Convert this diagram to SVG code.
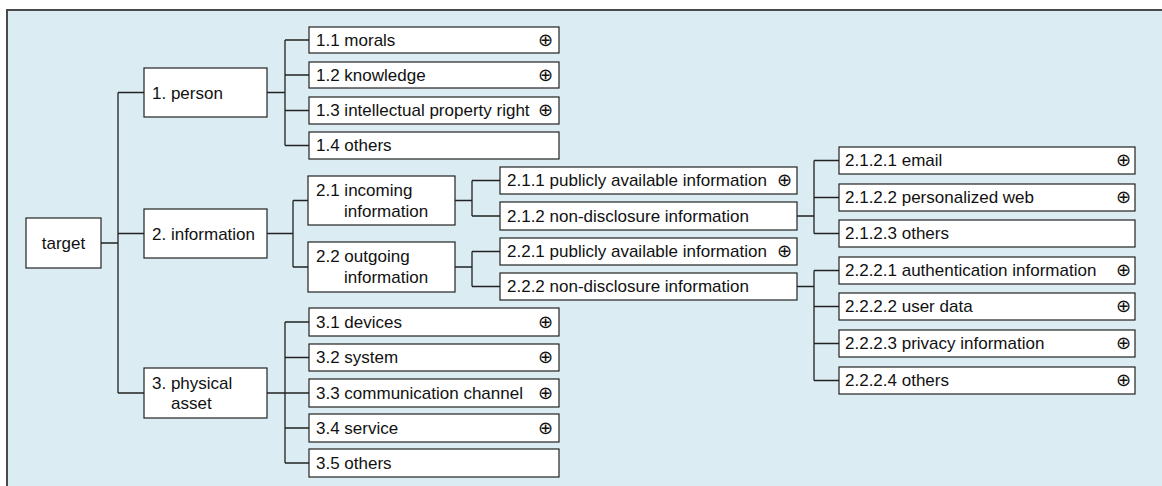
<svg xmlns="http://www.w3.org/2000/svg" width="1162" height="486" viewBox="0 0 1162 486">
<style>
.bx{fill:#fff;stroke:#222;stroke-width:1.2}
.t{font-family:"Liberation Sans",Arial,sans-serif;font-size:17px;fill:#111}
.p{font-family:"DejaVu Sans",sans-serif;font-size:18px;fill:#111;text-anchor:end}
.c{fill:none;stroke:#222;stroke-width:1.3}
</style>
<rect x="0" y="0" width="1162" height="486" fill="#fff"/>
<rect x="7" y="10" width="1165" height="490" fill="#dbedf3" stroke="#4a4a4a" stroke-width="2"/>
<g id="connectors" class="c">
<path d="M101 243H118M118 92.5V393M118 92.5H144M118 233.5H144M118 393H144"/>
<path d="M267 92.5H285M285 40V145.5M285 40H309M285 75H309M285 110.5H309M285 145.5H309"/>
<path d="M267 233.5H293M293 200.5V267M293 200.5H308M293 267H308"/>
<path d="M455 200.5H472M472 180.5V216M472 180.5H500M472 216H500"/>
<path d="M455 267H472M472 251.5V286.5M472 251.5H500M472 286.5H500"/>
<path d="M797 216H814M814 160.5V233.5M814 160.5H839M814 197.5H839M814 233.5H839"/>
<path d="M797 286.5H814M814 270.5V380.5M814 270.5H839M814 306.5H839M814 343.5H839M814 380.5H839"/>
<path d="M267 393H285M285 322V463M285 322H309M285 357.5H309M285 393H309M285 428H309M285 463H309"/>
</g>
<g id="target"><rect class="bx" x="26" y="218" width="75" height="50"/><text class="t" x="63.5" y="249" text-anchor="middle">target</text></g>
<g id="n1"><rect class="bx" x="144" y="68" width="123" height="49"/><text class="t" x="152" y="99">1. person</text></g>
<g id="n2"><rect class="bx" x="144" y="209" width="123" height="49"/><text class="t" x="152" y="240">2. information</text></g>
<g id="n3"><rect class="bx" x="144" y="368" width="123" height="50"/><text class="t" x="152" y="389">3. physical</text><text class="t" x="171" y="409">asset</text></g>
<g id="n11"><rect class="bx" x="309" y="27" width="250" height="26"/><text class="t" x="316" y="46">1.1 morals</text><text class="p" x="553" y="46">⊕</text></g>
<g id="n12"><rect class="bx" x="309" y="62" width="250" height="26"/><text class="t" x="316" y="81">1.2 knowledge</text><text class="p" x="553" y="81">⊕</text></g>
<g id="n13"><rect class="bx" x="309" y="97" width="250" height="27"/><text class="t" x="316" y="116">1.3 intellectual property right</text><text class="p" x="553" y="116">⊕</text></g>
<g id="n14"><rect class="bx" x="309" y="132" width="250" height="27"/><text class="t" x="316" y="151">1.4 others</text></g>
<g id="n21"><rect class="bx" x="308" y="176" width="147" height="49"/><text class="t" x="316" y="196">2.1 incoming</text><text class="t" x="344" y="217">information</text></g>
<g id="n22"><rect class="bx" x="308" y="242" width="147" height="50"/><text class="t" x="316" y="262">2.2 outgoing</text><text class="t" x="344" y="283">information</text></g>
<g id="n211"><rect class="bx" x="500" y="167" width="297" height="27"/><text class="t" x="507" y="186">2.1.1 publicly available information</text><text class="p" x="792" y="186">⊕</text></g>
<g id="n212"><rect class="bx" x="500" y="202" width="297" height="28"/><text class="t" x="507" y="222">2.1.2 non-disclosure information</text></g>
<g id="n221"><rect class="bx" x="500" y="238" width="297" height="27"/><text class="t" x="507" y="257">2.2.1 publicly available information</text><text class="p" x="792" y="257">⊕</text></g>
<g id="n222"><rect class="bx" x="500" y="273" width="297" height="27"/><text class="t" x="507" y="292">2.2.2 non-disclosure information</text></g>
<g id="n2121"><rect class="bx" x="839" y="147" width="296" height="27"/><text class="t" x="845" y="166">2.1.2.1 email</text><text class="p" x="1131" y="166">⊕</text></g>
<g id="n2122"><rect class="bx" x="839" y="184" width="296" height="27"/><text class="t" x="845" y="203">2.1.2.2 personalized web</text><text class="p" x="1131" y="203">⊕</text></g>
<g id="n2123"><rect class="bx" x="839" y="220" width="296" height="27"/><text class="t" x="845" y="239">2.1.2.3 others</text></g>
<g id="n2221"><rect class="bx" x="839" y="257" width="296" height="27"/><text class="t" x="845" y="276">2.2.2.1 authentication information</text><text class="p" x="1131" y="276">⊕</text></g>
<g id="n2222"><rect class="bx" x="839" y="293" width="296" height="27"/><text class="t" x="845" y="312">2.2.2.2 user data</text><text class="p" x="1131" y="312">⊕</text></g>
<g id="n2223"><rect class="bx" x="839" y="330" width="296" height="27"/><text class="t" x="845" y="349">2.2.2.3 privacy information</text><text class="p" x="1131" y="349">⊕</text></g>
<g id="n2224"><rect class="bx" x="839" y="367" width="296" height="27"/><text class="t" x="845" y="386">2.2.2.4 others</text><text class="p" x="1131" y="386">⊕</text></g>
<g id="n31"><rect class="bx" x="309" y="308" width="250" height="28"/><text class="t" x="316" y="328">3.1 devices</text><text class="p" x="553" y="328">⊕</text></g>
<g id="n32"><rect class="bx" x="309" y="344" width="250" height="27"/><text class="t" x="316" y="363">3.2 system</text><text class="p" x="553" y="363">⊕</text></g>
<g id="n33"><rect class="bx" x="309" y="379" width="250" height="28"/><text class="t" x="316" y="399">3.3 communication channel</text><text class="p" x="553" y="399">⊕</text></g>
<g id="n34"><rect class="bx" x="309" y="414" width="250" height="28"/><text class="t" x="316" y="434">3.4 service</text><text class="p" x="553" y="434">⊕</text></g>
<g id="n35"><rect class="bx" x="309" y="449" width="250" height="28"/><text class="t" x="316" y="469">3.5 others</text></g>
</svg>
